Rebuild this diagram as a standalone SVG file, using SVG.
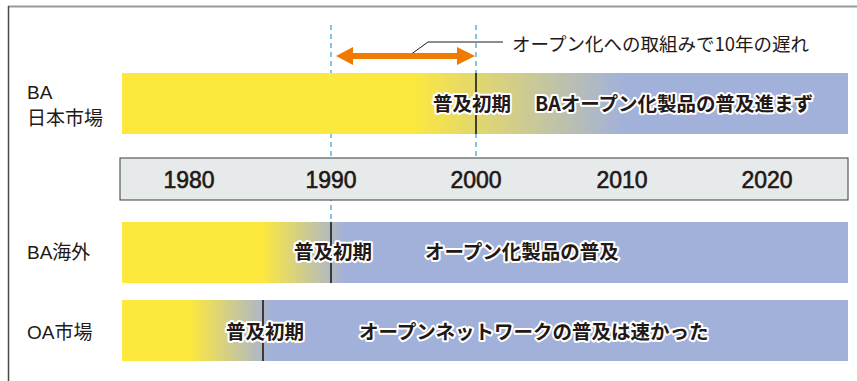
<svg xmlns="http://www.w3.org/2000/svg" width="857" height="381" viewBox="0 0 857 381">
<style>
.lbl{font-family:"Liberation Sans","Noto Sans CJK JP",sans-serif;font-size:19px;fill:#231815}
.bt{font-family:"Noto Sans CJK JP",sans-serif;font-size:19.5px;font-weight:bold;fill:#231815;stroke:#fff;stroke-width:4;stroke-linejoin:round;paint-order:stroke}
.yr{font-family:"Liberation Sans","Noto Sans",sans-serif;font-size:23px;fill:#231815;stroke:#231815;stroke-width:0.6;text-anchor:middle}
.ann{font-family:"Noto Sans CJK JP",sans-serif;font-size:18.5px;fill:#231815}
.dash{stroke:#5ab4dc;stroke-width:1.5;stroke-dasharray:5,4;fill:none}
.tick{stroke:#231815;stroke-width:1.6}
</style>
<defs>
<linearGradient id="g1" gradientUnits="userSpaceOnUse" x1="412" y1="0" x2="625" y2="0">
<stop offset="0" stop-color="#fde83e"/><stop offset="1" stop-color="#a2b1da"/>
</linearGradient>
<linearGradient id="g3" gradientUnits="userSpaceOnUse" x1="262" y1="0" x2="345" y2="0">
<stop offset="0" stop-color="#fde83e"/><stop offset="1" stop-color="#a2b1da"/>
</linearGradient>
<linearGradient id="g4" gradientUnits="userSpaceOnUse" x1="190" y1="0" x2="272" y2="0">
<stop offset="0" stop-color="#fde83e"/><stop offset="1" stop-color="#a2b1da"/>
</linearGradient>
</defs>
<rect width="857" height="381" fill="#fff"/>
<line x1="8" y1="6.5" x2="857" y2="6.5" stroke="#9a9a9a" stroke-width="2"/>
<line x1="8.5" y1="6" x2="8.5" y2="381" stroke="#4d4446" stroke-width="1.5"/>

<g id="connectors">
<line class="dash" x1="331" y1="25" x2="331" y2="222"/>
<line class="dash" x1="476" y1="25" x2="476" y2="158"/>
<path d="M410 55 L428 42 L503 42" fill="none" stroke="#231815" stroke-width="1"/>
<g id="delay-arrow" fill="#ef7b00">
<path d="M336 56 L353 47 L353 53 L457 53 L457 47 L475 56 L457 65 L457 59 L353 59 L353 65 Z"/>
</g>
<text class="ann" x="512" y="51">オープン化への取組みで10年の遅れ</text>
</g>

<g id="ba-japan">
<text class="lbl" x="27" y="99">BA</text>
<text class="lbl" x="27" y="125">日本市場</text>
<rect x="122" y="73" width="726" height="61" fill="url(#g1)"/>
<line class="tick" x1="476" y1="73" x2="476" y2="134"/>
<text class="bt" x="433" y="111">普及初期</text>
<text class="bt" x="535" y="111">BAオープン化製品の普及進まず</text>
</g>

<g id="axis">
<rect x="120" y="158" width="728" height="42" fill="#e6eaeb" stroke="#3a3a3a" stroke-width="1"/>
<text class="yr" x="189" y="188">1980</text>
<text class="yr" x="331" y="188">1990</text>
<text class="yr" x="476" y="188">2000</text>
<text class="yr" x="622" y="188">2010</text>
<text class="yr" x="767" y="188">2020</text>
</g>

<g id="ba-overseas">
<text class="lbl" x="27" y="259">BA海外</text>
<rect x="122" y="222" width="726" height="61" fill="url(#g3)"/>
<line class="tick" x1="331" y1="222" x2="331" y2="283"/>
<text class="bt" x="294" y="259">普及初期</text>
<text class="bt" x="425" y="259">オープン化製品の普及</text>
</g>

<g id="oa-market">
<text class="lbl" x="27" y="339">OA市場</text>
<rect x="122" y="300" width="726" height="61" fill="url(#g4)"/>
<line class="tick" x1="263" y1="300" x2="263" y2="361"/>
<text class="bt" x="226" y="339">普及初期</text>
<text class="bt" x="359" y="339">オープンネットワークの普及は速かった</text>
</g>
</svg>
